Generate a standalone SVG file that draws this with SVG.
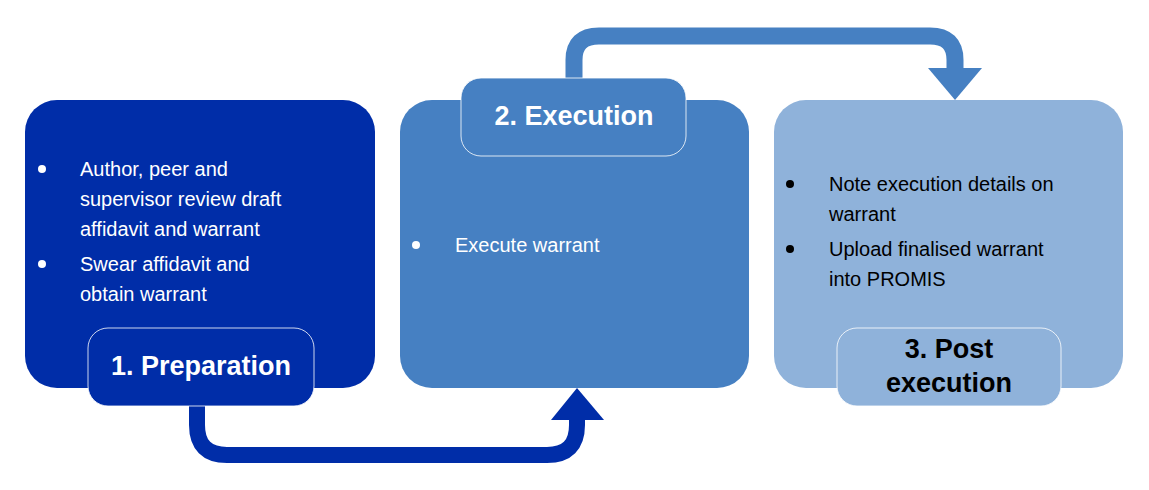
<svg xmlns="http://www.w3.org/2000/svg" width="1149" height="490" viewBox="0 0 1149 490">
<style>
text{font-family:"Liberation Sans",Arial,sans-serif}
.b{font-size:20px}
.w{fill:#fff}
.k{fill:#000}
.lab{font-size:27px;font-weight:bold;text-anchor:middle}
.ls{stroke:#fff;stroke-width:1;stroke-opacity:0.8}
</style>
<rect width="1149" height="490" fill="#fff"/>
<g id="connectors" fill="none">
<path d="M197,405 V425 Q197,455 227,455 H547 Q577,455 577,425 V418" stroke="#002DA8" stroke-width="16"/>
<polygon points="551,420 604,420 577,388" fill="#002DA8"/>
<path d="M574,80 V60 Q574,36 599,36 H930 Q955,36 955,60 V70" stroke="#4680C2" stroke-width="17"/>
<polygon points="928,68 982,68 955,100" fill="#4680C2"/>
</g>
<g id="node1">
<rect x="25" y="100" width="350" height="288" rx="32" fill="#002DA8"/>
<g class="b w">
<circle cx="42" cy="169" r="4" fill="#fff"/>
<text x="80" y="176">Author, peer and</text>
<text x="80" y="206">supervisor review draft</text>
<text x="80" y="236">affidavit and warrant</text>
<circle cx="42" cy="264" r="4" fill="#fff"/>
<text x="80" y="271">Swear affidavit and</text>
<text x="80" y="301">obtain warrant</text>
</g>
<rect x="88" y="328" width="226" height="78" rx="20" fill="#002DA8" class="ls"/>
<text x="201" y="375" class="lab w">1. Preparation</text>
</g>
<g id="node2">
<rect x="400" y="100" width="349" height="288" rx="32" fill="#4680C2"/>
<circle cx="416" cy="245" r="4" fill="#fff"/>
<text x="455" y="252" class="b w">Execute warrant</text>
<rect x="461" y="78" width="225" height="78" rx="20" fill="#4680C2" class="ls"/>
<text x="574" y="125" class="lab w">2. Execution</text>
</g>
<g id="node3">
<rect x="774" y="100" width="349" height="288" rx="32" fill="#8FB2DA"/>
<g class="b k">
<circle cx="790" cy="184" r="4" fill="#000"/>
<text x="829" y="191">Note execution details on</text>
<text x="829" y="221">warrant</text>
<circle cx="790" cy="249" r="4" fill="#000"/>
<text x="829" y="256">Upload finalised warrant</text>
<text x="829" y="286">into PROMIS</text>
</g>
<rect x="837" y="328" width="224" height="78" rx="20" fill="#8FB2DA" class="ls"/>
<text x="949" y="358" class="lab k">3. Post</text>
<text x="949" y="392" class="lab k">execution</text>
</g>
</svg>
